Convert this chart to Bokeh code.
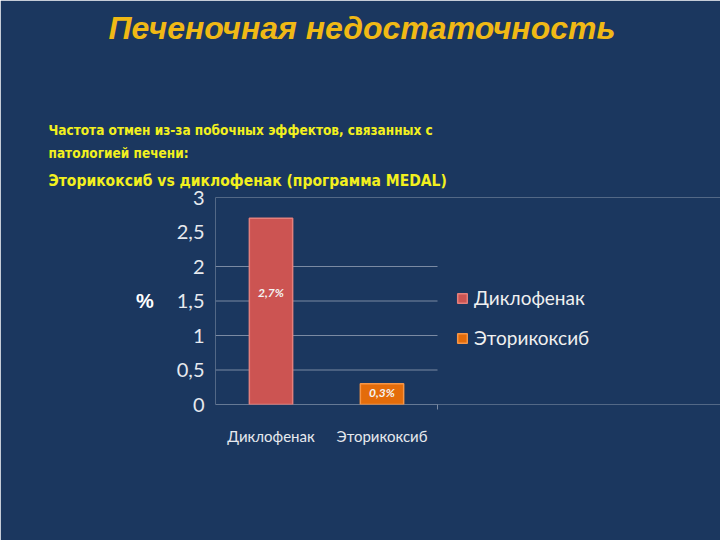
from bokeh.plotting import figure
from bokeh.models import ColumnDataSource, Legend, LegendItem, FixedTicker, Range1d, Title
from bokeh.core.properties import value
from bokeh.embed import file_html
from bokeh.resources import INLINE

categories = ["Диклофенак", "Эторикоксиб"]
values = [2.7, 0.3]
colors = ["#cc5452", "#e46c0a"]
edge_colors = ["#e57f7b", "#f79646"]
y_ticks = [0, 0.5, 1, 1.5, 2, 2.5, 3]
y_tick_labels = {0: "0", 0.5: "0,5", 1: "1", 1.5: "1,5", 2: "2", 2.5: "2,5", 3: "3"}
grid_ticks = [0, 0.5, 1, 1.5, 2]
title_text = "Печеночная недостаточность"
sub1 = "Частота отмен из-за побочных эффектов, связанных с"
sub2 = "патологией печени:"
sub3 = "Эторикоксиб vs  диклофенак  (программа MEDAL)"

BG = "#1b375f"
W, H = 720, 540
FRAME_L, CAT_PX = 215, 111          # frame left edge, pixels per category
LINE = "#7b8aa3"

xs = [i + 0.5 for i in range(len(categories))]
labels = [f"{v:.1f}%".replace(".", ",") for v in values]
label_y = [v * 0.6 for v in values]

src = ColumnDataSource(dict(x=xs, val=values, color=colors, edge=edge_colors,
                            lab=labels, ly=label_y))
grid_src = ColumnDataSource(dict(y=grid_ticks, x0=[0] * len(grid_ticks),
                                 x1=[len(categories)] * len(grid_ticks)))

p = figure(width=W, height=H, x_range=Range1d(0, (W - FRAME_L) / CAT_PX), y_range=Range1d(0, 3),
           output_backend="svg", toolbar_location=None,
           min_border_left=FRAME_L, min_border_right=0, min_border_top=197, min_border_bottom=136)
p.background_fill_color = BG
p.border_fill_color = BG
p.outline_line_color = None
p.outline_line_alpha = 0

# grid lines (chart area only)
p.segment(x0="x0", x1="x1", y0="y", y1="y", source=grid_src, line_color=LINE,
          line_width=1, level="underlay")

r = p.vbar(x="x", top="val", width=0.39, source=src, fill_color="color",
           line_color="edge", line_width=1.5)

p.text(x="x", y="ly", text="lab", source=src, text_align="center", text_baseline="middle",
       text_color="#f4f4f4", text_font=value("Lato"), text_font_style="bold italic",
       text_font_size="12px")

# axes
p.xgrid.visible = False
p.ygrid.visible = False

p.yaxis.ticker = FixedTicker(ticks=y_ticks)
p.yaxis.major_label_overrides = y_tick_labels
p.yaxis.axis_line_color = None
p.yaxis.major_tick_line_color = None
p.yaxis.minor_tick_line_color = None
p.yaxis.major_label_text_color = "#e6e9ee"
p.yaxis.major_label_text_font = "Lato"
p.yaxis.major_label_text_font_size = "20px"
p.yaxis.major_label_standoff = 5
p.yaxis.axis_label = "%"
p.yaxis.axis_label_orientation = "horizontal"
p.yaxis.axis_label_text_font = "Liberation Sans"
p.yaxis.axis_label_text_font_style = "bold"
p.yaxis.axis_label_text_font_size = "20px"
p.yaxis.axis_label_text_color = "#ffffff"
p.yaxis.axis_label_standoff = 20

p.xaxis.ticker = FixedTicker(ticks=xs, minor_ticks=[len(categories)])
p.xaxis.major_label_overrides = dict(zip(xs, categories))
p.xaxis.axis_line_color = None
p.xaxis.axis_line_alpha = 0
p.xaxis.major_tick_line_color = None
p.xaxis.minor_tick_line_color = LINE
p.xaxis.minor_tick_out = 5
p.xaxis.minor_tick_in = 0
p.xaxis.major_label_text_color = "#e6e9ee"
p.xaxis.major_label_text_font = "Lato"
p.xaxis.major_label_text_font_size = "15px"
p.xaxis.major_label_standoff = 16

# legend inside the (extended) frame
items = [LegendItem(label=c, renderers=[r], index=i) for i, c in enumerate(categories)]
leg = Legend(items=items, location=(241, 55), orientation="vertical",
             glyph_width=12, glyph_height=12, label_height=20, spacing=17,
             padding=0, margin=0, border_line_color=None, background_fill_alpha=0,
             label_text_color="#f0f0f0", label_text_font="Lato", label_text_font_size="19px",
             label_standoff=6)
p.add_layout(leg, "center")

# heading texts as stacked titles (first added is nearest the frame)
YEL = "#f2f01e"
SUBF = "DejaVu Sans Condensed"
p.add_layout(Title(text=sub3, text_font=SUBF, text_font_style="bold", text_font_size="15.5px",
                   text_color=YEL, align="left", offset=48 - FRAME_L, standoff=16), "above")
p.add_layout(Title(text=sub2, text_font=SUBF, text_font_style="bold", text_font_size="13.5px",
                   text_color=YEL, align="left", offset=48 - FRAME_L, standoff=2), "above")
p.add_layout(Title(text=sub1, text_font=SUBF, text_font_style="bold", text_font_size="13.5px",
                   text_color=YEL, align="left", offset=48 - FRAME_L, standoff=8), "above")
p.add_layout(Title(text=" ", text_font="Liberation Sans", text_font_size="10px",
                   text_color=BG, standoff=55), "above")
p.add_layout(Title(text=title_text, text_font="Liberation Sans", text_font_style="bold italic",
                   text_font_size="32px", text_color="#f0b915", align="left",
                   offset=108 - FRAME_L, standoff=4), "above")

open("out.html", "w").write(file_html(p, INLINE))
